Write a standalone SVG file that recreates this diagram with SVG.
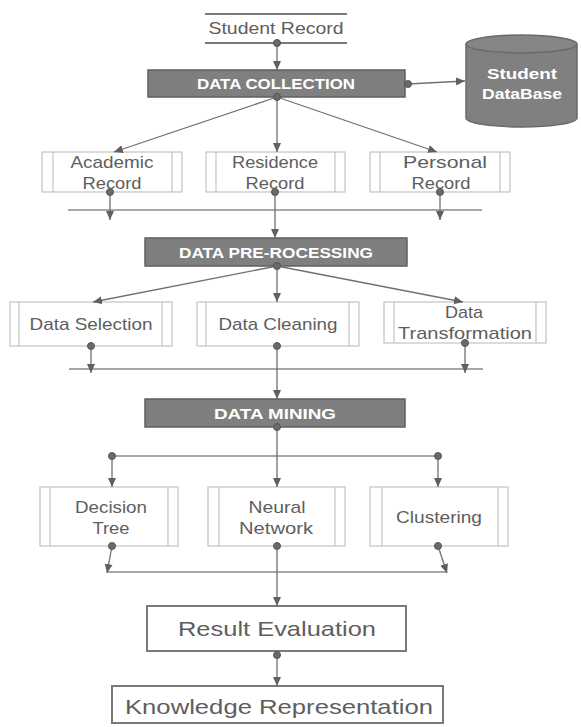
<svg xmlns="http://www.w3.org/2000/svg" width="581" height="727" viewBox="0 0 581 727">
<style>
.hdr{fill:#7f7f7f;stroke:#5f5f5f;stroke-width:1.5}
.hdrt{font-family:"Liberation Sans",Arial,sans-serif;font-weight:bold;font-size:15px;fill:#ffffff;text-anchor:middle}
.proc{fill:#ffffff;stroke:#c4c4c4;stroke-width:1.2}
.pt{font-family:"Liberation Sans",Arial,sans-serif;font-size:17px;fill:#5e5e5e;text-anchor:middle}
.big{fill:#ffffff;stroke:#7a7a7a;stroke-width:2}
.bt{font-family:"Liberation Sans",Arial,sans-serif;font-size:21px;fill:#5e5e5e;text-anchor:middle}
.ln{stroke:#8a8a8a;stroke-width:1.3;fill:none}
.ar{stroke:#707070;stroke-width:1.3;fill:none;marker-end:url(#ah)}
.dot{fill:#6a6a6a;stroke:#555;stroke-width:1}
</style>
<defs>
<marker id="ah" markerUnits="userSpaceOnUse" markerWidth="10" markerHeight="10" viewBox="0 0 10 10" refX="9" refY="5" orient="auto">
<path d="M0,1 L9,5 L0,9 Z" fill="#606060"/>
</marker>
</defs>
<rect width="581" height="727" fill="#ffffff"/>

<g id="student-record">
<line x1="205" y1="14" x2="347" y2="14" stroke="#7a7a7a" stroke-width="2"/>
<line x1="205" y1="43" x2="347" y2="43" stroke="#7a7a7a" stroke-width="2"/>
<text x="276" y="34" class="pt" textLength="135" lengthAdjust="spacingAndGlyphs">Student Record</text>
</g>

<g id="data-collection">
<rect x="148" y="70" width="257" height="27" class="hdr"/>
<text x="276" y="89" class="hdrt" textLength="158" lengthAdjust="spacingAndGlyphs">DATA COLLECTION</text>
</g>

<g id="student-database">
<path d="M466,44 L466,118 A55.5,9 0 0 0 577,118 L577,44" fill="#808080" stroke="#6a6a6a" stroke-width="1.5"/>
<ellipse cx="521.5" cy="44" rx="55.5" ry="9" fill="#858585" stroke="#6a6a6a" stroke-width="1.5"/>
<text x="522" y="79" class="hdrt" font-size="18" textLength="70" lengthAdjust="spacingAndGlyphs">Student</text>
<text x="522" y="99" class="hdrt" font-size="18" textLength="80" lengthAdjust="spacingAndGlyphs">DataBase</text>
</g>

<g id="academic-record">
<rect x="42" y="152" width="140" height="40" class="proc"/>
<line x1="53" y1="152" x2="53" y2="192" class="proc"/>
<line x1="172" y1="152" x2="172" y2="192" class="proc"/>
<text x="112" y="168" class="pt" textLength="83" lengthAdjust="spacingAndGlyphs">Academic</text>
<text x="112" y="189" class="pt" textLength="59" lengthAdjust="spacingAndGlyphs">Record</text>
</g>
<g id="residence-record">
<rect x="206" y="152" width="139" height="40" class="proc"/>
<line x1="216" y1="152" x2="216" y2="192" class="proc"/>
<line x1="335" y1="152" x2="335" y2="192" class="proc"/>
<text x="275" y="168" class="pt" textLength="86" lengthAdjust="spacingAndGlyphs">Residence</text>
<text x="275" y="189" class="pt" textLength="59" lengthAdjust="spacingAndGlyphs">Record</text>
</g>
<g id="personal-record">
<rect x="370" y="152" width="140" height="40" class="proc"/>
<line x1="380" y1="152" x2="380" y2="192" class="proc"/>
<line x1="500" y1="152" x2="500" y2="192" class="proc"/>
<text x="445" y="168" class="pt" textLength="84" lengthAdjust="spacingAndGlyphs">Personal</text>
<text x="441" y="189" class="pt" textLength="59" lengthAdjust="spacingAndGlyphs">Record</text>
</g>

<g id="data-preprocessing">
<rect x="145" y="238" width="262" height="28" class="hdr"/>
<text x="276" y="258" class="hdrt" textLength="194" lengthAdjust="spacingAndGlyphs">DATA PRE-ROCESSING</text>
</g>

<g id="data-selection">
<rect x="10" y="302" width="162" height="44" class="proc"/>
<line x1="19" y1="302" x2="19" y2="346" class="proc"/>
<line x1="162" y1="302" x2="162" y2="346" class="proc"/>
<text x="91" y="330" class="pt" textLength="123" lengthAdjust="spacingAndGlyphs">Data Selection</text>
</g>
<g id="data-cleaning">
<rect x="197" y="302" width="162" height="44" class="proc"/>
<line x1="206" y1="302" x2="206" y2="346" class="proc"/>
<line x1="349" y1="302" x2="349" y2="346" class="proc"/>
<text x="278" y="330" class="pt" textLength="119" lengthAdjust="spacingAndGlyphs">Data Cleaning</text>
</g>
<g id="data-transformation">
<rect x="384" y="302" width="162" height="41" class="proc"/>
<line x1="394" y1="302" x2="394" y2="343" class="proc"/>
<line x1="536" y1="302" x2="536" y2="343" class="proc"/>
<text x="464" y="318" class="pt" textLength="38" lengthAdjust="spacingAndGlyphs">Data</text>
<text x="465" y="339" class="pt" textLength="134" lengthAdjust="spacingAndGlyphs">Transformation</text>
</g>

<g id="data-mining">
<rect x="145" y="399" width="260" height="28" class="hdr"/>
<text x="275" y="419" class="hdrt" textLength="122" lengthAdjust="spacingAndGlyphs">DATA MINING</text>
</g>

<g id="decision-tree">
<rect x="40" y="487" width="138" height="59" class="proc"/>
<line x1="50" y1="487" x2="50" y2="546" class="proc"/>
<line x1="168" y1="487" x2="168" y2="546" class="proc"/>
<text x="111" y="513" class="pt" textLength="72" lengthAdjust="spacingAndGlyphs">Decision</text>
<text x="111" y="534" class="pt" textLength="37" lengthAdjust="spacingAndGlyphs">Tree</text>
</g>
<g id="neural-network">
<rect x="208" y="487" width="137" height="59" class="proc"/>
<line x1="219" y1="487" x2="219" y2="546" class="proc"/>
<line x1="335" y1="487" x2="335" y2="546" class="proc"/>
<text x="277" y="513" class="pt" textLength="57" lengthAdjust="spacingAndGlyphs">Neural</text>
<text x="276" y="534" class="pt" textLength="74" lengthAdjust="spacingAndGlyphs">Network</text>
</g>
<g id="clustering">
<rect x="370" y="487" width="138" height="59" class="proc"/>
<line x1="382" y1="487" x2="382" y2="546" class="proc"/>
<line x1="498" y1="487" x2="498" y2="546" class="proc"/>
<text x="439" y="523" class="pt" textLength="86" lengthAdjust="spacingAndGlyphs">Clustering</text>
</g>

<g id="result-evaluation">
<rect x="147" y="606" width="259" height="45" class="big"/>
<text x="277" y="636" class="bt" textLength="198" lengthAdjust="spacingAndGlyphs">Result Evaluation</text>
</g>
<g id="knowledge-representation">
<rect x="112" y="686" width="331" height="37" class="big"/>
<text x="279" y="714" class="bt" textLength="308" lengthAdjust="spacingAndGlyphs">Knowledge Representation</text>
</g>

<g id="connectors">
<line x1="277" y1="43" x2="277" y2="70" class="ar"/>
<line x1="408" y1="84" x2="465" y2="81" class="ar"/>
<line x1="277" y1="97" x2="114" y2="152" class="ar"/>
<line x1="277" y1="97" x2="277" y2="152" class="ar"/>
<line x1="277" y1="97" x2="437" y2="152" class="ar"/>

<line x1="68" y1="210" x2="482" y2="210" class="ln"/>
<line x1="110" y1="192" x2="110" y2="220" class="ar"/>
<line x1="440" y1="192" x2="440" y2="220" class="ar"/>
<line x1="275" y1="192" x2="275" y2="238" class="ar"/>

<line x1="277" y1="266" x2="93" y2="302" class="ar"/>
<line x1="277" y1="266" x2="277" y2="302" class="ar"/>
<line x1="277" y1="266" x2="463" y2="302" class="ar"/>

<line x1="69" y1="369" x2="483" y2="369" class="ln"/>
<line x1="91" y1="346" x2="91" y2="373" class="ar"/>
<line x1="465" y1="343" x2="465" y2="373" class="ar"/>
<line x1="277" y1="346" x2="277" y2="399" class="ar"/>

<line x1="112" y1="456" x2="438" y2="456" class="ln"/>
<line x1="277" y1="427" x2="277" y2="487" class="ar"/>
<line x1="112" y1="456" x2="112" y2="487" class="ar"/>
<line x1="438" y1="456" x2="438" y2="487" class="ar"/>

<line x1="107" y1="572" x2="447" y2="572" class="ln"/>
<line x1="112" y1="546" x2="107" y2="573" class="ar"/>
<line x1="438" y1="546" x2="447" y2="573" class="ar"/>
<line x1="277" y1="546" x2="277" y2="606" class="ar"/>

<line x1="277" y1="655" x2="277" y2="686" class="ar"/>

<circle cx="277" cy="43" r="3.5" class="dot"/>
<circle cx="408" cy="84" r="3.5" class="dot"/>
<circle cx="277" cy="97" r="3.5" class="dot"/>
<circle cx="110" cy="192" r="3.5" class="dot"/>
<circle cx="275" cy="192" r="3.5" class="dot"/>
<circle cx="440" cy="192" r="3.5" class="dot"/>
<circle cx="277" cy="266" r="3.5" class="dot"/>
<circle cx="91" cy="346" r="3.5" class="dot"/>
<circle cx="277" cy="346" r="3.5" class="dot"/>
<circle cx="465" cy="343" r="3.5" class="dot"/>
<circle cx="277" cy="427" r="3.5" class="dot"/>
<circle cx="112" cy="456" r="3.5" class="dot"/>
<circle cx="438" cy="456" r="3.5" class="dot"/>
<circle cx="112" cy="546" r="3.5" class="dot"/>
<circle cx="277" cy="546" r="3.5" class="dot"/>
<circle cx="438" cy="546" r="3.5" class="dot"/>
<circle cx="277" cy="655" r="3.5" class="dot"/>
</g>
</svg>
